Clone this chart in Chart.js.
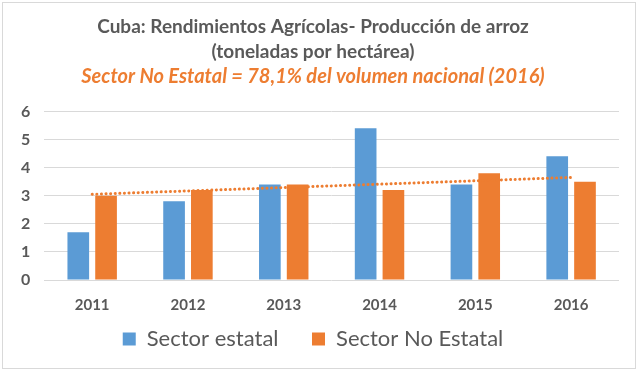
<!DOCTYPE html>
<html>
<head>
<meta charset="utf-8">
<script src="https://cdn.jsdelivr.net/npm/chart.js@4"></script>
<style>
  html, body { margin: 0; padding: 0; background: #fff; }
  #wrap { position: absolute; left: 2px; top: 2px; width: 632px; height: 365px; border: 1px solid #d9d9d9; }
  #chart { display: block; }
</style>
</head>
<body>
<div id="wrap"><canvas id="chart" width="632" height="365"></canvas></div>
<script>
const years = ["2011", "2012", "2013", "2014", "2015", "2016"];
const estatal = [1.7, 2.8, 3.4, 5.4, 3.4, 4.4];
const noEstatal = [3.0, 3.2, 3.4, 3.2, 3.8, 3.5];
// linear trend of the non-state series, end points
const trend = [3.05, null, null, null, null, 3.65];

const grey = "#595959";
const blue = "#5B9BD5";
const orange = "#ED7D31";

const ctx = document.getElementById("chart").getContext("2d");
new Chart(ctx, {
    type: "bar",
    data: {
        labels: years,
        datasets: [{
            type: "line",
            label: "trend",
            data: trend,
            spanGaps: true,
            borderColor: orange,
            borderWidth: 3,
            borderDash: [0.1, 4.5],
            borderCapStyle: "round",
            pointRadius: 0,
            fill: false,
            order: 0
        }, {
            label: "Sector estatal",
            data: estatal,
            backgroundColor: blue,
            categoryPercentage: 0.58,
            barPercentage: 0.78,
            order: 1
        }, {
            label: "Sector No Estatal",
            data: noEstatal,
            backgroundColor: orange,
            categoryPercentage: 0.58,
            barPercentage: 0.78,
            order: 1
        }]
    },
    options: {
        responsive: false,
        animation: false,
        layout: { padding: { left: 4, right: 16, top: 0, bottom: 8 } },
        plugins: {
            title: {
                display: true,
                text: ["Cuba: Rendimientos Agrícolas- Producción de arroz", "(toneladas por hectárea)"],
                color: grey,
                font: { family: "Lato", size: 19, weight: "bold", lineHeight: 1.3 },
                padding: { top: 12, bottom: 0 }
            },
            subtitle: {
                display: true,
                text: "Sector No Estatal = 78,1% del volumen nacional (2016)",
                color: orange,
                font: { family: "Lato", size: 20, weight: "bold", style: "italic" },
                padding: { top: 0, bottom: 23 }
            },
            legend: {
                position: "bottom",
                labels: {
                    color: grey,
                    font: { family: "Lato", size: 22 },
                    boxWidth: 13,
                    boxHeight: 13,
                    padding: 6,
                    generateLabels: chart => {
                        const items = Chart.defaults.plugins.legend.labels.generateLabels(chart)
                            .filter(item => item.text !== "trend");
                        // wider gap between the two entries
                        items[0].text += "\u2003\u2002";
                        return items;
                    }
                }
            },
            tooltip: { enabled: false }
        },
        scales: {
            x: {
                grid: { display: false },
                border: { display: false },
                ticks: { color: grey, font: { family: "Lato", size: 15, weight: "bold" }, padding: 8 }
            },
            y: {
                min: 0,
                max: 6,
                ticks: { stepSize: 1, color: grey, font: { family: "Lato", size: 16, weight: "bold" }, padding: 14 },
                grid: { color: "#d9d9d9", drawTicks: false },
                border: { display: false }
            }
        }
    }
});
</script>
</body>
</html>
